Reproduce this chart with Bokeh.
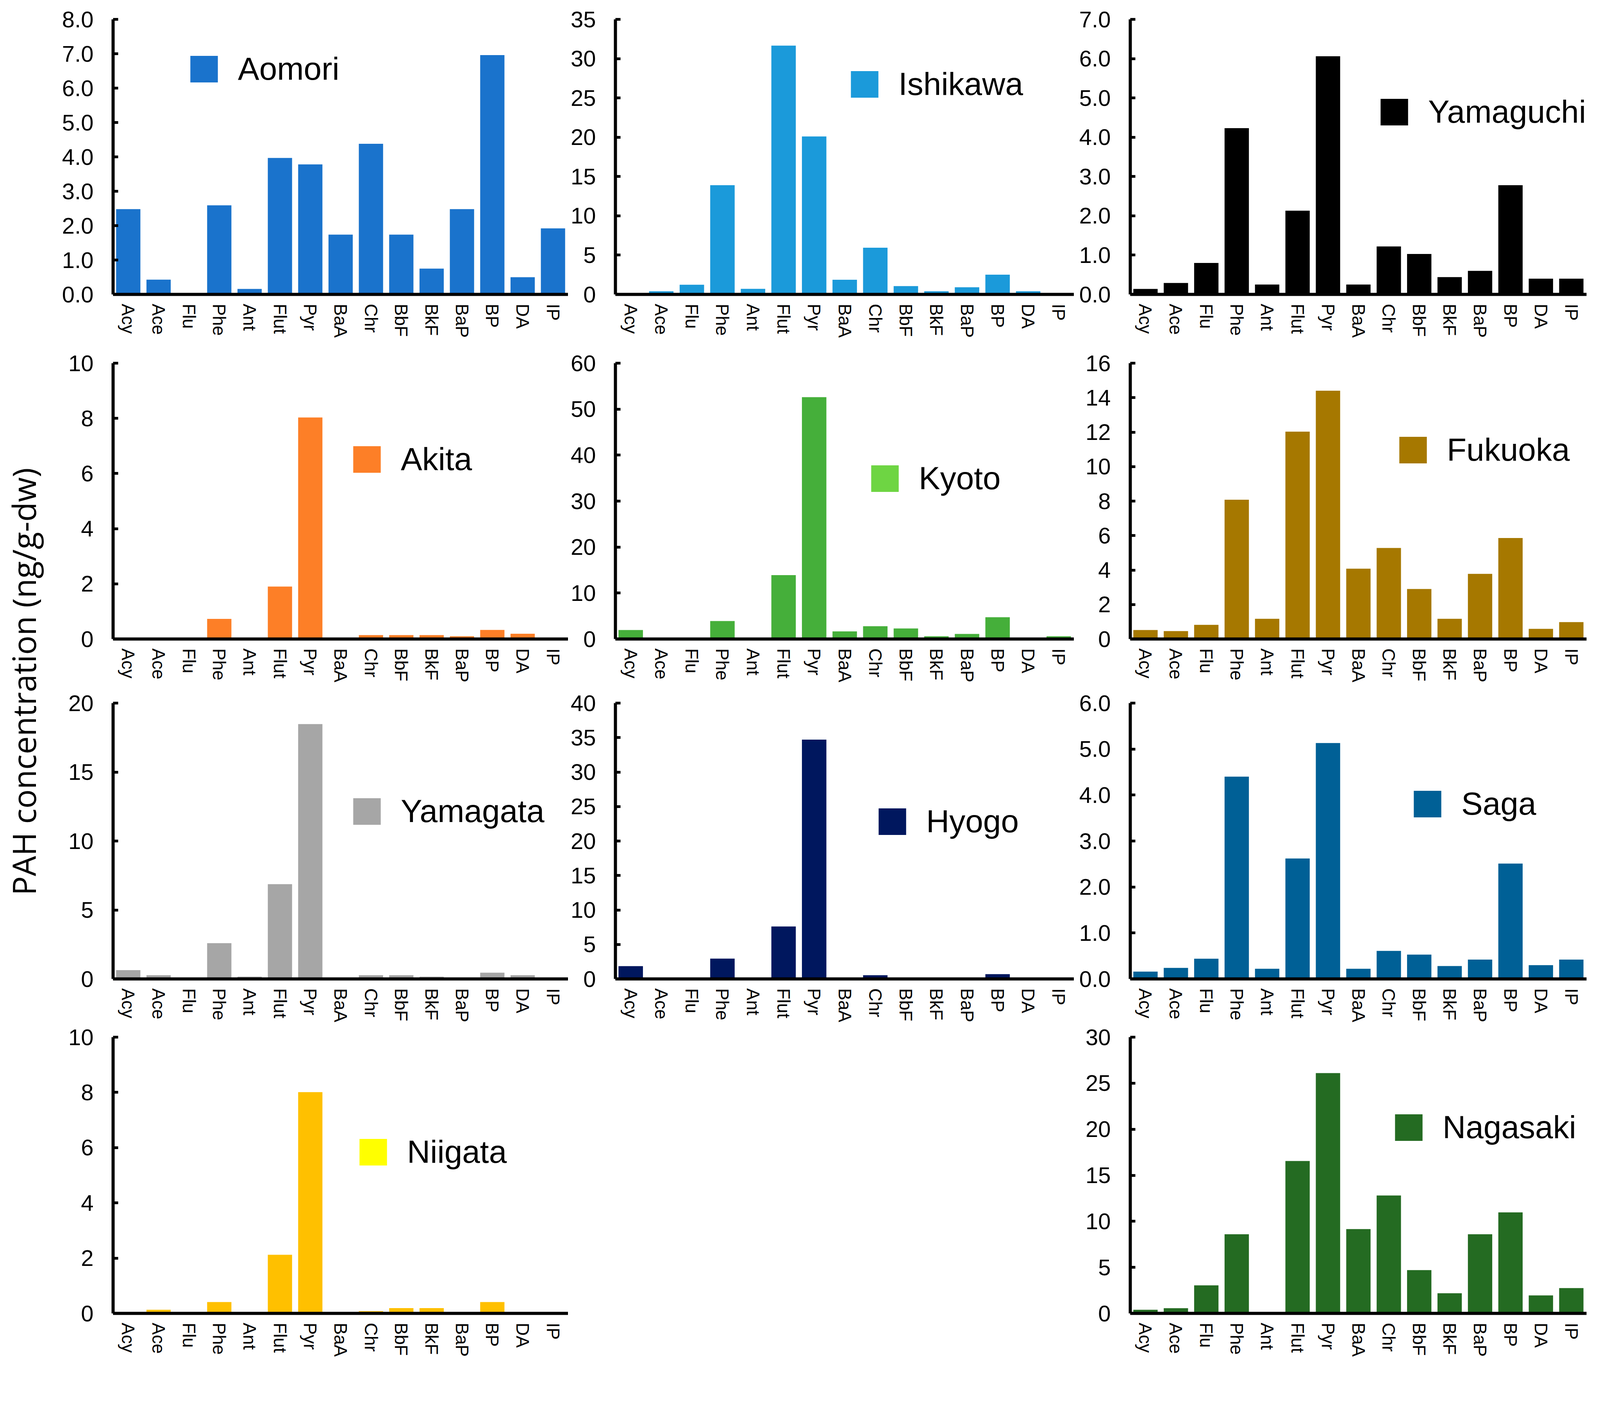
import math
from bokeh.plotting import figure
from bokeh.models import (ColumnDataSource, FactorRange, Range1d, Legend, LegendItem,
                          FixedTicker, NumeralTickFormatter, Label, Spacer)
from bokeh.layouts import row, column
from bokeh.embed import file_html
from bokeh.resources import INLINE

# ---------------- data ----------------
cats = ["Acy", "Ace", "Flu", "Phe", "Ant", "Flut", "Pyr", "BaA", "Chr", "BbF", "BkF", "BaP", "BP", "DA", "IP"]

aomori    = [2.48, 0.43, 0.0, 2.59, 0.16, 3.97, 3.78, 1.74, 4.38, 1.74, 0.75, 2.48, 6.96, 0.50, 1.92]
ishikawa  = [0.0, 0.40, 1.23, 13.9, 0.71, 31.66, 20.1, 1.86, 5.94, 1.06, 0.40, 0.91, 2.51, 0.40, 0.0]
yamaguchi = [0.14, 0.29, 0.80, 4.23, 0.25, 2.13, 6.06, 0.25, 1.22, 1.03, 0.44, 0.60, 2.78, 0.40, 0.40]
akita     = [0.0, 0.0, 0.0, 0.73, 0.0, 1.90, 8.03, 0.0, 0.14, 0.14, 0.14, 0.10, 0.33, 0.19, 0.0]
kyoto     = [1.95, 0.0, 0.0, 3.90, 0.0, 13.9, 52.6, 1.66, 2.78, 2.30, 0.60, 1.10, 4.74, 0.0, 0.60]
fukuoka   = [0.52, 0.46, 0.82, 8.08, 1.17, 12.03, 14.4, 4.08, 5.28, 2.90, 1.17, 3.78, 5.86, 0.59, 0.98]
yamagata  = [0.64, 0.27, 0.0, 2.59, 0.16, 6.87, 18.48, 0.0, 0.27, 0.27, 0.16, 0.0, 0.45, 0.27, 0.0]
hyogo     = [1.85, 0.0, 0.0, 2.94, 0.0, 7.60, 34.7, 0.0, 0.54, 0.0, 0.0, 0.0, 0.70, 0.0, 0.0]
saga      = [0.16, 0.24, 0.44, 4.40, 0.22, 2.62, 5.13, 0.22, 0.61, 0.53, 0.28, 0.42, 2.51, 0.30, 0.42]
niigata   = [0.0, 0.13, 0.0, 0.41, 0.0, 2.12, 8.01, 0.0, 0.08, 0.19, 0.19, 0.0, 0.41, 0.0, 0.0]
nagasaki  = [0.39, 0.56, 3.04, 8.59, 0.0, 16.55, 26.1, 9.15, 12.8, 4.70, 2.19, 8.59, 10.97, 1.95, 2.75]

y_title = "PAH concentration (ng/g-dw)"

# ---------------- styling / layout ----------------
K = 0.9734  # page px per reference px


def S(v):
    return int(round(v * K))


TICK_FONT = "Liberation Sans"
TITLE_W = 125
COLS = [  # (min_border_left, frame_width, min_border_right) in page px
    (S(187) + S(110) - TITLE_W, S(1197), 0),
    (S(124), S(1206), 0),
    (S(148), S(1200), S(12)),
]
ROWS = [  # (min_border_top, frame_height, min_border_bottom) in page px
    (49, 704, 142),
    (34, 706, 130),
    (34, 706, 111),
    (35, 707, 118),
]

GW, GH = 88, 85          # legend glyph box (10% inset each side when drawn)


def make_panel(name, vals, color, swatch, ymax, step, one_dec, leg_x, leg_cy, col, rw):
    ml, fw, mr = COLS[col]
    mt, fh, mb = ROWS[rw]
    p = figure(x_range=FactorRange(*cats), y_range=Range1d(0, ymax),
               frame_width=fw, frame_height=fh,
               min_border_left=ml, min_border_right=mr,
               min_border_top=mt, min_border_bottom=mb,
               output_backend="svg", toolbar_location=None, tools="")
    src = ColumnDataSource(dict(x=cats, top=vals))
    p.vbar(x="x", top="top", width=0.8, source=src, fill_color=color, line_color=None)
    swatch_src = ColumnDataSource(dict(x=cats[:1], top=[0.0]))
    dummy = p.vbar(x="x", top="top", width=0.8, source=swatch_src,
                   fill_color=swatch, line_color=None)
    leg = Legend(items=[LegendItem(label=name, renderers=[dummy])],
                 location=(S(leg_x) - int(GW * 0.1), S(leg_cy) - GH // 2 - 9),
                 glyph_width=GW, glyph_height=GH, label_height=GH,
                 label_standoff=43, padding=0, margin=0, spacing=0,
                 border_line_color=None, background_fill_alpha=0,
                 label_text_font=TICK_FONT, label_text_font_size="82px",
                 label_text_color="black", label_text_baseline="middle")
    p.add_layout(leg)

    p.xgrid.visible = False
    p.ygrid.visible = False
    p.outline_line_color = None
    p.background_fill_color = "white"

    xa = p.xaxis[0]
    xa.axis_line_width = 8
    xa.axis_line_color = "black"
    xa.major_tick_line_color = None
    xa.minor_tick_line_color = None
    xa.major_label_orientation = "vertical"
    xa.major_label_text_font = TICK_FONT
    xa.major_label_text_font_size = "46px"
    xa.major_label_text_color = "black"
    xa.major_label_standoff = 18

    ya = p.yaxis[0]
    n = int(round(ymax / step))
    ya.ticker = FixedTicker(ticks=[i * step for i in range(n + 1)])
    ya.formatter = NumeralTickFormatter(format="0.0" if one_dec else "0")
    ya.axis_line_width = 8
    ya.axis_line_color = "black"
    ya.major_tick_in = 13
    ya.major_tick_out = 0
    ya.major_tick_line_width = 7
    ya.major_tick_line_color = "black"
    ya.minor_tick_line_color = None
    ya.major_label_text_font = TICK_FONT
    ya.major_label_text_font_size = "58px"
    ya.major_label_text_color = "black"
    ya.major_label_standoff = 50
    return p


p_aomori = make_panel("Aomori", aomori, "#1A73CC", "#1A73CC", 8, 1, True, 202, 597, 0, 0)
p_ishikawa = make_panel("Ishikawa", ishikawa, "#1B9ADA", "#1B9ADA", 35, 5, False, 618, 557, 1, 0)
p_yamaguchi = make_panel("Yamaguchi", yamaguchi, "#000000", "#000000", 7, 1, True, 658, 484, 2, 0)
p_akita = make_panel("Akita", akita, "#FD7F27", "#FD7F27", 10, 2, False, 631, 477, 0, 1)
p_kyoto = make_panel("Kyoto", kyoto, "#45AF3A", "#6ED543", 60, 10, False, 672, 426, 1, 1)
p_fukuoka = make_panel("Fukuoka", fukuoka, "#A67800", "#A67800", 16, 2, False, 707, 501, 2, 1)
p_yamagata = make_panel("Yamagata", yamagata, "#A6A6A6", "#A6A6A6", 20, 5, False, 631, 445, 0, 2)
p_hyogo = make_panel("Hyogo", hyogo, "#00175E", "#00175E", 40, 5, False, 691, 418, 1, 2)
p_saga = make_panel("Saga", saga, "#006096", "#006096", 6, 1, True, 745, 464, 2, 2)
p_niigata = make_panel("Niigata", niigata, "#FFC000", "#FFFF00", 10, 2, False, 647, 428, 0, 3)
p_nagasaki = make_panel("Nagasaki", nagasaki, "#246B22", "#246B22", 30, 5, False, 696, 493, 2, 3)

total_h = sum(r[0] + r[1] + r[2] for r in ROWS)
tfig = figure(width=TITLE_W, height=total_h, x_range=Range1d(0, 1), y_range=Range1d(0, 1),
              min_border=0, output_backend="svg", toolbar_location=None, tools="")
tfig.axis.visible = False
tfig.grid.visible = False
tfig.outline_line_color = None
tfig.add_layout(Label(x=S(67) - 8 + 2, y=total_h - (S(1800) - 8), x_units="screen", y_units="screen",
                      text=y_title, angle=math.pi / 2, text_align="center",
                      text_baseline="middle", text_font="Open Sans",
                      text_font_size="82px", text_color="black"))

r4_h = ROWS[3][0] + ROWS[3][1] + ROWS[3][2]
gap = Spacer(width=COLS[1][0] + COLS[1][1] + COLS[1][2], height=r4_h)

grid = column(
    row(p_aomori, p_ishikawa, p_yamaguchi),
    row(p_akita, p_kyoto, p_fukuoka),
    row(p_yamagata, p_hyogo, p_saga),
    row(p_niigata, gap, p_nagasaki),
)
layout = row(tfig, grid)

open("out.html", "w").write(file_html(layout, INLINE))
